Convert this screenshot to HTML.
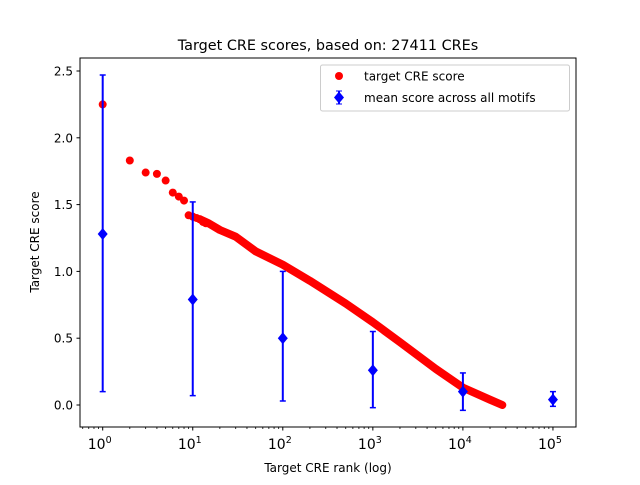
<!DOCTYPE html><html><head><style>body{margin:0;background:#fff}svg{font-family:"DejaVu Sans","Liberation Sans",sans-serif}</style></head><body>
<svg id="s" width="640" height="480" xmlns="http://www.w3.org/2000/svg"></svg>
<script>
const s=document.getElementById('s');let h='';
const X=r=>102.7+90.05*Math.log10(r), Y=v=>405-133.6*v;
h+='<rect x="80" y="58" width="496" height="369" fill="#fff" stroke="none"/>';
// red line part
const L=[[12,1.39],[15,1.36],[20,1.31],[30,1.26],[50,1.15],[100,1.05],[200,0.93],[500,0.76],[1000,0.62],[2000,0.47],[5000,0.27],[10000,0.13],[20000,0.04],[27411,0]];
h+='<polyline fill="none" stroke="red" stroke-width="8" stroke-linecap="round" stroke-linejoin="round" points="'+L.map(p=>X(p[0]).toFixed(1)+','+Y(p[1]).toFixed(1)).join(' ')+'"/>';
const P=[[1,2.25],[2,1.83],[3,1.74],[4,1.73],[5,1.68],[6,1.59],[7,1.56],[8,1.53],[9,1.42],[10,1.41],[11,1.40],[12,1.39],[13,1.37],[14,1.36]];
P.forEach(p=>h+=`<circle cx="${X(p[0])}" cy="${Y(p[1])}" r="4" fill="red"/>`);
const B=[[1,1.28,0.10,2.47],[10,0.79,0.07,1.52],[100,0.50,0.03,1.0],[1000,0.26,-0.02,0.55],[10000,0.10,-0.04,0.24],[100000,0.04,-0.01,0.10]];
B.forEach(b=>{const x=X(b[0]),y=Y(b[1]),a=Y(b[2]),c=Y(b[3]);
h+=`<line x1="${x}" y1="${a}" x2="${x}" y2="${c}" stroke="blue" stroke-width="2"/><line x1="${x-3}" y1="${a}" x2="${x+3}" y2="${a}" stroke="blue" stroke-width="1.5"/><line x1="${x-3}" y1="${c}" x2="${x+3}" y2="${c}" stroke="blue" stroke-width="1.5"/><polygon points="${x},${y-6} ${x+5},${y} ${x},${y+6} ${x-5},${y}" fill="blue"/>`;});
h+='<rect x="80" y="58" width="496" height="369" fill="none" stroke="#000" stroke-width="1"/>';
for(let d=-1;d<=5;d++){for(let k=1;k<10;k++){const x=X(Math.pow(10,d)*k);if(x<80||x>576)continue;
if(k==1){h+=`<line x1="${x}" y1="427" x2="${x}" y2="430.5" stroke="#000"/><text x="${x-3}" y="449" font-size="14" text-anchor="middle">10<tspan font-size="9.5" dy="-6">${d}</tspan></text>`;}
else h+=`<line x1="${x}" y1="427" x2="${x}" y2="429" stroke="#000" stroke-width="0.8"/>`;}}
for(let i=0;i<=5;i++){const v=i*0.5,y=Y(v);h+=`<line x1="76.5" y1="${y}" x2="80" y2="${y}" stroke="#000"/><text x="73" y="${y+4.5}" font-size="12" text-anchor="end">${v.toFixed(1)}</text>`;}
h+='<text x="328" y="472" font-size="12" text-anchor="middle">Target CRE rank (log)</text>';
h+='<text transform="translate(39,242) rotate(-90)" font-size="12" text-anchor="middle">Target CRE score</text>';
h+='<text x="328" y="50" font-size="14.4" text-anchor="middle">Target CRE scores, based on: 27411 CREs</text>';
h+='<rect x="320.5" y="65" width="249" height="46" rx="2" fill="#fff" stroke="#ccc"/>';
h+='<circle cx="339" cy="76" r="4" fill="red"/><text x="364" y="80.5" font-size="12">target CRE score</text>';
h+='<line x1="339" y1="91" x2="339" y2="104" stroke="blue" stroke-width="2"/><line x1="336" y1="91" x2="342" y2="91" stroke="blue"/><line x1="336" y1="104" x2="342" y2="104" stroke="blue"/><polygon points="339,91.5 344,97.5 339,103.5 334,97.5" fill="blue"/><text x="364" y="102" font-size="12">mean score across all motifs</text>';
s.innerHTML=h;
</script></body></html>
